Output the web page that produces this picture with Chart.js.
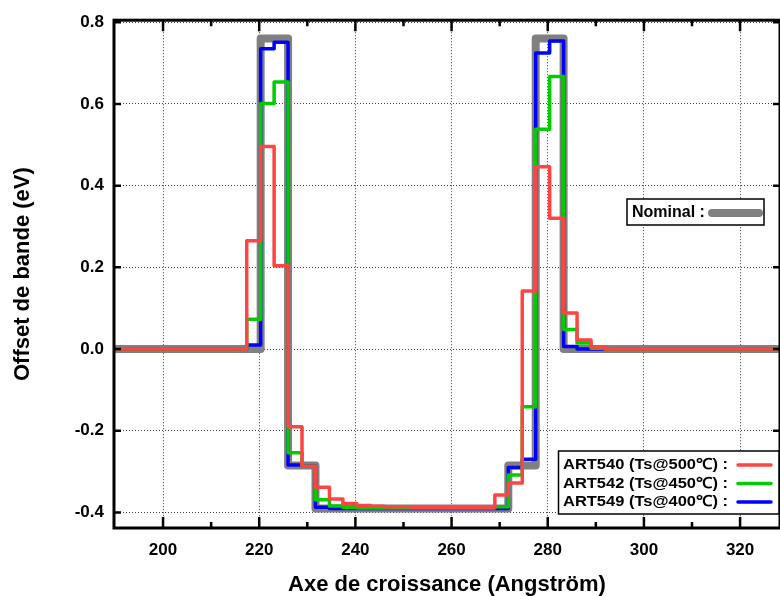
<!DOCTYPE html>
<html>
<head>
<meta charset="utf-8">
<script src="https://cdn.jsdelivr.net/npm/chart.js@4.4.1/dist/chart.umd.min.js"></script>
<style>
  html, body { margin: 0; padding: 0; background: #fff; }
</style>
</head>
<body>
<canvas id="c" width="780" height="596"></canvas>
<script>
// step edges (Angström) shared by the measured profiles
const edges = [217.4, 220.3, 223.1, 226.0, 228.9, 231.7, 234.6, 237.4, 240.3, 243.2, 246.0, 248.9, 251.8,
  254.6, 257.5, 260.4, 263.2, 266.1, 269.0, 271.8, 274.7, 277.5, 280.4, 283.3, 286.1, 289.0, 291.9];

// band offset (eV) on each step, starting at the matching edge
const nominal = [0, 0.76, 0.76, -0.285, -0.285, -0.39, -0.39, -0.39, -0.39, -0.39, -0.39, -0.39, -0.39,
  -0.39, -0.39, -0.39, -0.39, -0.39, -0.39, -0.285, -0.285, 0.76, 0.76, 0, 0, 0, 0];
const art540 = [0.265, 0.496, 0.204, -0.19, -0.287, -0.338, -0.367, -0.378, -0.383, -0.385, -0.386, -0.386, -0.387,
  -0.387, -0.388, -0.388, -0.388, -0.388, -0.357, -0.328, 0.142, 0.446, 0.320, 0.088, 0.022, 0.005, 0];
const art542 = [0.073, 0.601, 0.654, -0.254, -0.287, -0.369, -0.384, -0.388, -0.389, -0.389, -0.389, -0.389, -0.389,
  -0.389, -0.389, -0.389, -0.389, -0.389, -0.386, -0.308, -0.141, 0.538, 0.667, 0.048, 0.015, 0.002, 0];
const art549 = [0.01, 0.735, 0.751, -0.284, -0.286, -0.387, -0.39, -0.39, -0.39, -0.39, -0.39, -0.39, -0.39,
  -0.39, -0.39, -0.39, -0.39, -0.39, -0.39, -0.29, -0.27, 0.725, 0.754, 0.006, 0, 0, 0];

const xStart = 190;
const xEnd = 330;

const xMajorTicks = [200, 220, 240, 260, 280, 300, 320];
const xMinorTicks = [210, 230, 250, 270, 290, 310];
const yMajorTicks = [-0.4, -0.2, 0.0, 0.2, 0.4, 0.6, 0.8];

const seriesLabels = ['ART540 (Ts@500℃) :', 'ART542 (Ts@450℃) :', 'ART549 (Ts@400℃) :'];
const nominalLabel = 'Nominal :';

const RED = '#ff4444';
const GREEN = '#00cc00';
const BLUE = '#0000ff';
const GREY = '#808080';

// build {x,y} points for a stepped line
function steps(vals) {
  const pts = [{ x: xStart, y: 0 }];
  edges.forEach((e, i) => pts.push({ x: e, y: vals[i] }));
  pts.push({ x: xEnd, y: 0 });
  return pts;
}

function line(label, vals, color, width) {
  return {
    label: label,
    data: steps(vals),
    stepped: true,
    borderColor: color,
    borderWidth: width,
    pointRadius: 0,
    fill: false,
    borderJoinStyle: 'round',
    borderCapStyle: 'round'
  };
}

const FONT = '"Liberation Sans", Arial, sans-serif';

// frame with inward ticks + the two legend boxes
const framePlugin = {
  id: 'frame',
  afterDraw(chart) {
    const ctx = chart.ctx;
    const a = chart.chartArea;
    const xs = chart.scales.x;
    const ys = chart.scales.y;
    ctx.save();
    ctx.strokeStyle = '#000';
    ctx.lineWidth = 3;
    ctx.strokeRect(a.left, a.top, a.right - a.left, a.bottom - a.top);

    ctx.lineWidth = 2.5;
    ctx.beginPath();
    xMajorTicks.forEach(v => {
      const px = xs.getPixelForValue(v);
      ctx.moveTo(px, a.bottom); ctx.lineTo(px, a.bottom - 11);
      ctx.moveTo(px, a.top); ctx.lineTo(px, a.top + 11);
    });
    xMinorTicks.forEach(v => {
      const px = xs.getPixelForValue(v);
      ctx.moveTo(px, a.bottom); ctx.lineTo(px, a.bottom - 6);
      ctx.moveTo(px, a.top); ctx.lineTo(px, a.top + 6);
    });
    yMajorTicks.forEach(v => {
      const py = ys.getPixelForValue(v);
      ctx.moveTo(a.left, py); ctx.lineTo(a.left + 7, py);
      ctx.moveTo(a.right, py); ctx.lineTo(a.right - 7, py);
    });
    ctx.stroke();

    // Nominal legend box
    ctx.fillStyle = '#fff';
    ctx.lineWidth = 1.5;
    ctx.fillRect(627, 199, 137, 26);
    ctx.strokeRect(627, 199, 137, 26);
    ctx.fillStyle = '#000';
    ctx.font = 'bold 16px ' + FONT;
    ctx.textBaseline = 'middle';
    ctx.textAlign = 'left';
    ctx.fillText(nominalLabel, 632, 213);
    ctx.strokeStyle = GREY;
    ctx.lineWidth = 8;
    ctx.lineCap = 'round';
    ctx.beginPath();
    ctx.moveTo(712, 213); ctx.lineTo(759, 213);
    ctx.stroke();

    // sample legend box
    ctx.fillStyle = '#fff';
    ctx.strokeStyle = '#000';
    ctx.lineWidth = 1.5;
    ctx.fillRect(558.5, 451, 220.5, 63);
    ctx.strokeRect(558.5, 451, 220.5, 63);
    const colors = [RED, GREEN, BLUE];
    ctx.font = 'bold 15px ' + FONT;
    seriesLabels.forEach((t, i) => {
      const y = 465 + i * 18.5;
      // the original labels run a bit wider than Liberation Sans, stretch to fit
      const w = ctx.measureText(t).width;
      ctx.save();
      ctx.translate(563, y);
      ctx.scale(165 / w, 1);
      ctx.fillStyle = '#000';
      ctx.fillText(t, 0, 0);
      ctx.restore();
      ctx.strokeStyle = colors[i];
      ctx.lineWidth = 3.5;
      ctx.beginPath();
      ctx.moveTo(738, y); ctx.lineTo(771, y);
      ctx.stroke();
    });
    ctx.restore();
  }
};

new Chart(document.getElementById('c'), {
  type: 'line',
  data: {
    datasets: [
      line(seriesLabels[0], art540, RED, 3.5),
      line(seriesLabels[1], art542, GREEN, 3.5),
      line(seriesLabels[2], art549, BLUE, 3.5),
      line(nominalLabel, nominal, GREY, 8)
    ]
  },
  options: {
    responsive: false,
    animation: false,
    devicePixelRatio: 1,
    layout: { padding: { top: 20, right: 0, left: 0, bottom: 0 } },
    plugins: {
      legend: { display: false },
      tooltip: { enabled: false }
    },
    scales: {
      x: {
        type: 'linear',
        min: 189.8,
        max: 328.3,
        afterBuildTicks: s => { s.ticks = xMajorTicks.map(v => ({ value: v })); },
        afterFit: s => { s.height = 68; },
        grid: { color: 'rgba(0,0,0,0.75)', lineWidth: 1, drawTicks: false },
        border: { display: false, dash: [1, 2] },
        ticks: {
          color: '#000',
          padding: 12,
          maxRotation: 0,
          font: { family: FONT, size: 17, weight: 'bold' },
          callback: v => String(v)
        },
        title: {
          display: true,
          text: 'Axe de croissance (Angström)',
          color: '#000',
          padding: { top: 0, bottom: 0 },
          font: { family: FONT, size: 22, weight: 'bold', lineHeight: 1 }
        }
      },
      y: {
        type: 'linear',
        min: -0.438,
        max: 0.805,
        afterBuildTicks: s => { s.ticks = yMajorTicks.map(v => ({ value: v })); },
        afterFit: s => { s.width = 114; },
        grid: { color: 'rgba(0,0,0,0.75)', lineWidth: 1, drawTicks: false },
        border: { display: false, dash: [1, 2] },
        ticks: {
          color: '#000',
          padding: 10,
          font: { family: FONT, size: 17, weight: 'bold' },
          callback: v => v.toFixed(1)
        },
        title: {
          display: true,
          text: 'Offset de bande (eV)',
          color: '#000',
          padding: { top: 12, bottom: 0 },
          font: { family: FONT, size: 22, weight: 'bold', lineHeight: 1 }
        }
      }
    }
  },
  plugins: [framePlugin]
});
</script>
</body>
</html>
